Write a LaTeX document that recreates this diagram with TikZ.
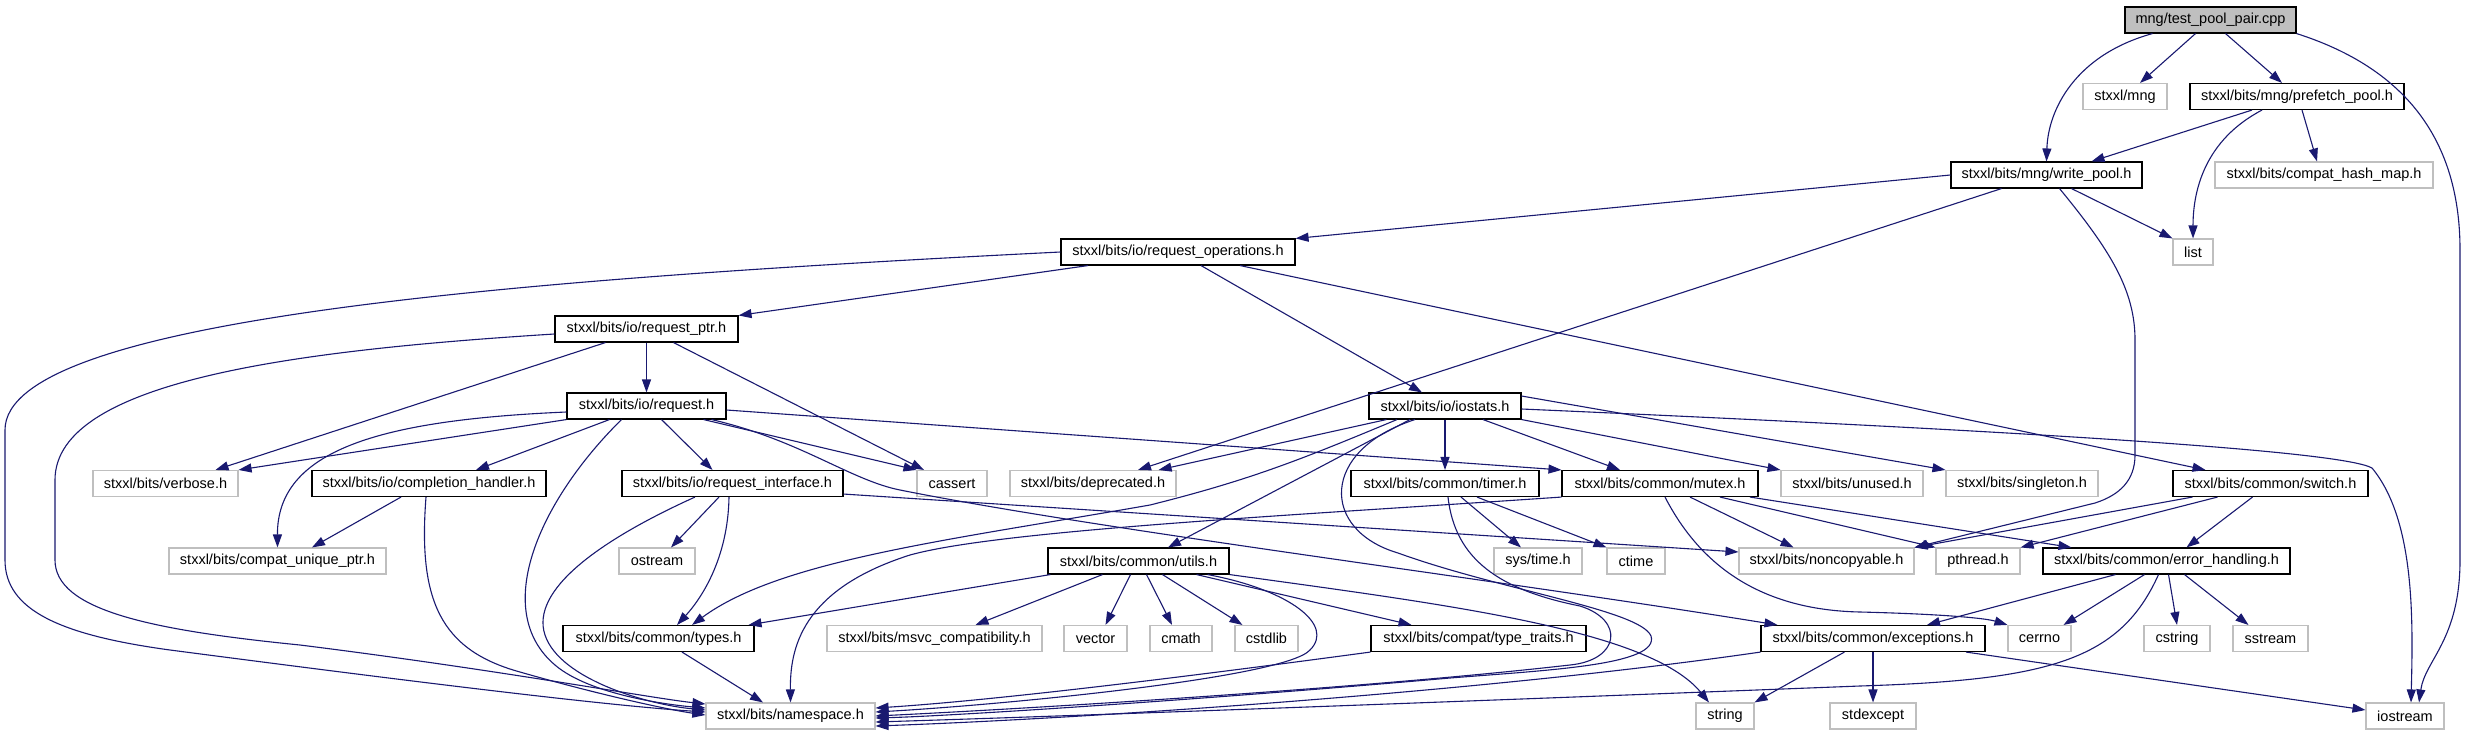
\documentclass[tikz,border=0pt]{standalone}
\usepackage{fontspec}
\setmainfont{Liberation Sans}
\usetikzlibrary{arrows.meta,calc}
\definecolor{edgeblue}{HTML}{191970}
\definecolor{extgray}{HTML}{BFBFBF}
\tikzset{
  box/.style={rectangle, line width=1.1pt, inner sep=0pt, minimum height=26pt, minimum width=#1, font=\fontsize{14.5}{16}\selectfont},
  doc/.style={box=#1, draw=black, fill=white},
  ext/.style={box=#1, draw=extgray, fill=white},
  rootbox/.style={box=#1, draw=black, fill=extgray},
  edge/.style={draw=edgeblue, line width=1.1pt, -{Triangle[length=13pt,width=9pt]}}
}
\begin{document}
\begin{tikzpicture}[x=1pt,y=-1pt]
\fill[white] (0,0) rectangle (2475,736);
\useasboundingbox (0,0) rectangle (2475,736);
% nodes
\node[rootbox=171pt] (root) at (2210.5,20) {mng/test\_pool\_pair.cpp};
\node[ext=84pt] (mng) at (2125,96.5) {stxxl/mng};
\node[doc=214pt] (prefetch) at (2297,96.5) {stxxl/bits/mng/prefetch\_pool.h};
\node[doc=191pt] (writepool) at (2046.5,175) {stxxl/bits/mng/write\_pool.h};
\node[ext=218pt] (hashmap) at (2324,175) {stxxl/bits/compat\_hash\_map.h};
\node[ext=40pt] (list) at (2193,252) {list};
\node[doc=234pt] (reqops) at (1178,252) {stxxl/bits/io/request\_operations.h};
\node[doc=183pt] (reqptr) at (646.5,329) {stxxl/bits/io/request\_ptr.h};
\node[doc=159pt] (request) at (646.5,406) {stxxl/bits/io/request.h};
\node[doc=152pt] (iostats) at (1445,406) {stxxl/bits/io/iostats.h};
\node[ext=145pt] (verbose) at (165.5,483.5) {stxxl/bits/verbose.h};
\node[doc=234pt] (complh) at (429,483.5) {stxxl/bits/io/completion\_handler.h};
\node[doc=221pt] (reqif) at (732.5,483.5) {stxxl/bits/io/request\_interface.h};
\node[ext=70pt] (cassert) at (952,483.5) {cassert};
\node[ext=166pt] (deprecated) at (1093,483.5) {stxxl/bits/deprecated.h};
\node[doc=188pt] (timer) at (1445,483.5) {stxxl/bits/common/timer.h};
\node[doc=196pt] (mutex) at (1660,483.5) {stxxl/bits/common/mutex.h};
\node[ext=142pt] (unused) at (1852,483.5) {stxxl/bits/unused.h};
\node[ext=152pt] (singleton) at (2022,483.5) {stxxl/bits/singleton.h};
\node[doc=195pt] (switch) at (2270.5,483.5) {stxxl/bits/common/switch.h};
\node[ext=217pt] (uniqueptr) at (277.5,561) {stxxl/bits/compat\_unique\_ptr.h};
\node[ext=76pt] (ostream) at (657,561) {ostream};
\node[doc=181pt] (utils) at (1138.5,561) {stxxl/bits/common/utils.h};
\node[ext=88pt] (systime) at (1538,561) {sys/time.h};
\node[ext=58pt] (ctime) at (1636,561) {ctime};
\node[ext=175pt] (noncopy) at (1826.5,561) {stxxl/bits/noncopyable.h};
\node[ext=84pt] (pthread) at (1978,561) {pthread.h};
\node[doc=247pt] (errh) at (2166.5,561) {stxxl/bits/common/error\_handling.h};
\node[doc=191pt] (types) at (658.5,638.5) {stxxl/bits/common/types.h};
\node[ext=215pt] (msvc) at (934.5,638.5) {stxxl/bits/msvc\_compatibility.h};
\node[ext=63pt] (vector) at (1095.5,638.5) {vector};
\node[ext=62pt] (cmath) at (1181,638.5) {cmath};
\node[ext=63pt] (cstdlib) at (1266.5,638.5) {cstdlib};
\node[doc=215pt] (typetraits) at (1478.5,638.5) {stxxl/bits/compat/type\_traits.h};
\node[doc=224pt] (exceptions) at (1873,638.5) {stxxl/bits/common/exceptions.h};
\node[ext=63pt] (cerrno) at (2039.5,638.5) {cerrno};
\node[ext=66pt] (cstring) at (2177,638.5) {cstring};
\node[ext=75pt] (sstream) at (2270.5,638.5) {sstream};
\node[ext=169pt] (namespace) at (790.5,716) {stxxl/bits/namespace.h};
\node[ext=58pt] (string) at (1725,716) {string};
\node[ext=86pt] (stdexcept) at (1873,716) {stdexcept};
\node[ext=78pt] (iostream) at (2405,716) {iostream};
% edges from root
\draw[edge] ($(root.south)+(-58,0)$) .. controls (2075,55) and (2048,110) .. (writepool.north);
\draw[edge] ($(root.south)+(-15,0)$) -- ($(mng.north)+(15,0)$);
\draw[edge] ($(root.south)+(15,0)$) -- ($(prefetch.north)+(-15,0)$);
\draw[edge] (root.south east) .. controls (2395,65) and (2460,130) .. (2460,250) -- (2460,560) .. controls (2460,640) and (2425,660) .. ($(iostream.north)+(14,0)$);
% prefetch
\draw[edge] ($(prefetch.south)+(-45,0)$) -- ($(writepool.north)+(45,0)$);
\draw[edge] ($(prefetch.south)+(-35,0)$) .. controls (2205,140) and (2193,190) .. (list.north);
\draw[edge] ($(prefetch.south)+(5,0)$) -- ($(hashmap.north)+(-7,0)$);
% write_pool
\draw[edge] ($(writepool.south)+(25,0)$) -- (list.north west);
\draw[edge] (writepool.west) -- (reqops.north east);
\draw[edge] ($(writepool.south)+(-45,0)$) -- ($(deprecated.north)+(45,0)$);
\draw[edge] ($(writepool.south)+(13,0)$) .. controls (2110,250) and (2135,290) .. (2135,340) -- (2135,455) .. controls (2135,480) and (2120,495) .. (2095,503) -- (noncopy.north east);
% request_operations
\draw[edge] (reqops.west) .. controls (500,280) and (5,320) .. (5,430) -- (5,560) .. controls (5,610) and (60,635) .. (170,650) .. controls (400,680) and (600,705) .. ($(namespace.west)+(0,-4)$);
\draw[edge] ($(reqops.south)+(-90,0)$) -- (reqptr.north east);
\draw[edge] ($(reqops.south)+(23,0)$) -- ($(iostats.north)+(-23,0)$);
\draw[edge] ($(reqops.south)+(62,0)$) -- ($(switch.north)+(-65,0)$);
% request_ptr
\draw[edge] (reqptr.south) -- (request.north);
\draw[edge] ($(reqptr.south)+(-41,0)$) -- ($(verbose.north)+(50,0)$);
\draw[edge] ($(reqptr.south)+(27,0)$) -- ($(cassert.north)+(-28,0)$);
\draw[edge] ($(reqptr.west)+(0,5)$) .. controls (300,350) and (55,380) .. (55,480) -- (55,560) .. controls (55,610) and (150,630) .. (300,645) .. controls (500,670) and (650,698) .. ($(namespace.west)+(0,-12)$);
% request
\draw[edge] (request.south west) -- (verbose.north east);
\draw[edge] ($(request.west)+(0,6)$) .. controls (380,420) and (277,450) .. (uniqueptr.north);
\draw[edge] ($(request.south)+(-37,0)$) -- ($(complh.north)+(47,0)$);
\draw[edge] ($(request.south)+(-25,0)$) .. controls (540,500) and (490,610) .. (555,665) .. controls (590,695) and (670,705) .. ($(namespace.west)+(0,-8)$);
\draw[edge] ($(request.south)+(15,0)$) -- ($(reqif.north)+(-20,0)$);
\draw[edge] ($(request.south)+(57,0)$) -- (cassert.north west);
\draw[edge] ($(request.east)+(0,4)$) -- (mutex.north west);
\draw[edge] ($(request.south)+(65,0)$) .. controls (800,440) and (850,480) .. (900,490) .. controls (1100,530) and (1500,580) .. ($(exceptions.north west)+(17,0)$);
% completion_handler
\draw[edge] ($(complh.south)+(-28,0)$) -- ($(uniqueptr.north)+(34.5,0)$);
\draw[edge] ($(complh.south)+(-3,0)$) .. controls (418,600) and (440,650) .. (520,672) .. controls (600,695) and (670,710) .. ($(namespace.west)+(0,-1)$);
% request_interface
\draw[edge] ($(reqif.south)+(-13.5,0)$) -- ($(ostream.north)+(14,0)$);
\draw[edge] ($(reqif.south)+(-3.5,0)$) .. controls (728,560) and (700,600) .. ($(types.north)+(18.5,0)$);
\draw[edge] ($(reqif.south)+(-37.5,0)$) .. controls (600,540) and (530,590) .. (545,635) .. controls (560,680) and (650,705) .. ($(namespace.west)+(0,-6)$);
\draw[edge] ($(reqif.south east)+(0,-3)$) -- ($(noncopy.west)+(0,-9)$);
% iostats
\draw[edge] ($(iostats.south west)+(18,0)$) -- ($(deprecated.north east)+(-18,0)$);
\draw[edge] ($(iostats.south)+(-48,0)$) .. controls (1300,460) and (1250,480) .. (1150,505) .. controls (950,540) and (780,560) .. ($(types.north)+(33.5,0)$);
\draw[edge] ($(iostats.south)+(-35,0)$) -- ($(utils.north)+(29.5,0)$);
\draw[edge] ($(iostats.south)+(-30,0)$) .. controls (1320,450) and (1320,530) .. (1398,553) .. controls (1500,590) and (1640,610) .. (1651,636) .. controls (1660,665) and (1550,670) .. (1450,678) .. controls (1200,700) and (950,716) .. ($(namespace.east)+(0,2)$);
\draw[edge] (iostats.south) -- (timer.north);
\draw[edge] ($(iostats.south)+(38,0)$) -- ($(mutex.north)+(-40,0)$);
\draw[edge] (iostats.south east) -- (unused.north west);
\draw[edge] ($(iostats.east)+(0,-10)$) -- (singleton.north west);
\draw[edge] ($(iostats.east)+(0,3)$) .. controls (2000,430) and (2340,450) .. (2372,468) .. controls (2415,520) and (2413,620) .. ($(iostream.north)+(6,0)$);
% timer
\draw[edge] ($(timer.south)+(16,0)$) -- ($(systime.north)+(-17,0)$);
\draw[edge] ($(timer.south)+(32,0)$) -- (ctime.north west);
\draw[edge] ($(timer.south)+(3,0)$) .. controls (1455,560) and (1500,590) .. (1580,606) .. controls (1625,620) and (1620,660) .. (1570,665) .. controls (1350,690) and (1000,710) .. (namespace.east);
% mutex
\draw[edge] (mutex.south west) .. controls (1300,515) and (1000,530) .. (910,555) .. controls (800,590) and (790,650) .. (namespace.north);
\draw[edge] ($(mutex.south)+(30,0)$) -- ($(noncopy.north)+(-33,0)$);
\draw[edge] ($(mutex.south)+(60,0)$) -- (pthread.north west);
\draw[edge] ($(mutex.south)+(90,0)$) -- ($(errh.north west)+(29,0)$);
\draw[edge] ($(mutex.south)+(5,0)$) .. controls (1700,565) and (1760,610) .. (1860,612) .. controls (1940,614) and (1985,618) .. (cerrno.north west);
% switch
\draw[edge] ($(switch.south west)+(20,0)$) -- (noncopy.north east);
\draw[edge] ($(switch.south)+(-53,0)$) -- (pthread.north east);
\draw[edge] ($(switch.south)+(-18,0)$) -- ($(errh.north)+(20,0)$);
% error_handling
\draw[edge] ($(errh.south)+(-51,0)$) -- ($(exceptions.north)+(54,0)$);
\draw[edge] ($(errh.south)+(-22,0)$) -- ($(cerrno.north)+(24,0)$);
\draw[edge] ($(errh.south)+(2,0)$) -- (cstring.north);
\draw[edge] ($(errh.south)+(18,0)$) -- ($(sstream.north)+(-22,0)$);
\draw[edge] ($(errh.south)+(-8,0)$) .. controls (2120,660) and (2050,680) .. (1860,686) .. controls (1500,700) and (1100,715) .. ($(namespace.east)+(0,6)$);
% exceptions
\draw[edge] (exceptions.south west) .. controls (1500,690) and (1100,718) .. ($(namespace.east)+(0,10)$);
\draw[edge] ($(exceptions.south west)+(84,0)$) -- (string.north east);
\draw[edge] (exceptions.south) -- (stdexcept.north);
\draw[edge] ($(exceptions.south)+(93,0)$) -- ($(iostream.west)+(0,-6)$);
% utils
\draw[edge] ($(utils.south west)+(3,0)$) -- ($(types.north east)+(-6,0)$);
\draw[edge] ($(utils.south)+(-36,0)$) -- ($(msvc.north)+(41,0)$);
\draw[edge] ($(utils.south)+(-8,0)$) -- ($(vector.north)+(10,0)$);
\draw[edge] ($(utils.south)+(8,0)$) -- ($(cmath.north)+(-9,0)$);
\draw[edge] ($(utils.south)+(24,0)$) -- ($(cstdlib.north west)+(8,0)$);
\draw[edge] ($(utils.south)+(58,0)$) -- ($(typetraits.north)+(-67,0)$);
\draw[edge] (utils.south east) .. controls (1450,605) and (1650,630) .. ($(string.north)+(-16,0)$);
\draw[edge] ($(utils.south east)+(-22,0)$) .. controls (1290,590) and (1335,625) .. (1310,650) .. controls (1285,678) and (1000,705) .. ($(namespace.east)+(0,-4)$);
% type_traits, types
\draw[edge] (typetraits.south west) .. controls (1200,675) and (1000,700) .. ($(namespace.east)+(0,-8)$);
\draw[edge] ($(types.south)+(23.5,0)$) -- ($(namespace.north)+(-27.5,0)$);
\end{tikzpicture}
\end{document}
